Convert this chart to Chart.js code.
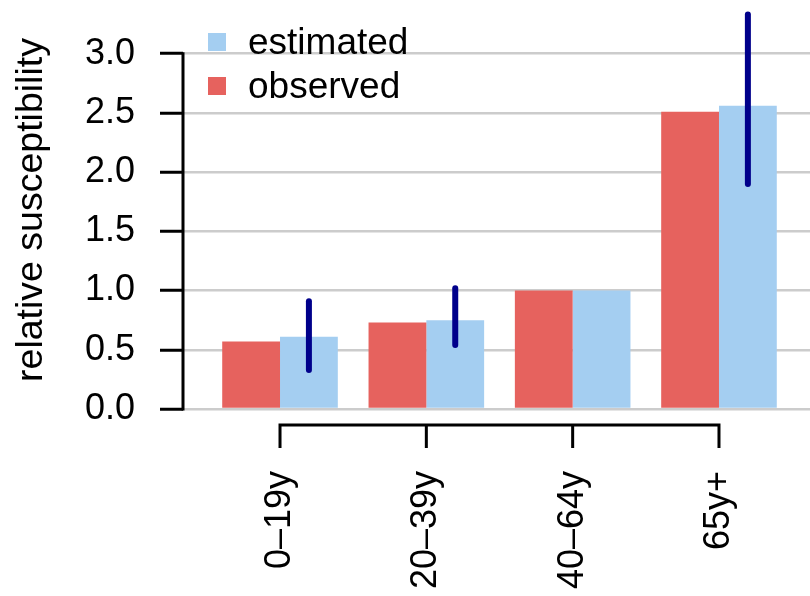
<!DOCTYPE html>
<html>
<head>
<meta charset="utf-8">
<title>Relative susceptibility by age</title>
<script src="https://cdn.jsdelivr.net/npm/chart.js@4.4.1/dist/chart.umd.min.js"></script>
<style>
    html, body { margin: 0; padding: 0; background: #fff; }
    canvas { display: block; }
</style>
</head>
<body>
<canvas id="susceptibility" width="810" height="596"></canvas>
<script>
const ageGroups = ['0–19y', '20–39y', '40–64y', '65y+'];
const observed = [0.57, 0.73, 1.0, 2.51];
const estimated = [0.61, 0.75, 1.0, 2.56];
// interval around the estimate, null where none was drawn
const estimatedLow = [0.33, 0.54, null, 1.90];
const estimatedHigh = [0.91, 1.02, null, 3.33];
const yTicks = [0, 0.5, 1.0, 1.5, 2.0, 2.5, 3.0];

const FONT = "'Liberation Sans', Arial, Helvetica, sans-serif";
const red = 'rgb(230, 98, 94)';
const blue = 'rgb(164, 206, 241)';
const navy = 'rgb(0, 0, 139)';
const gridGray = 'rgb(204, 204, 204)';

function toPoints(values) {
    return values.map((v, i) => ({ x: i, y: v }));
}

// fixed box size, and no extra room for the outer tick labels
function fixBox(scale, size) {
    if (scale.isHorizontal()) scale.height = size;
    else scale.width = size;
    scale.paddingTop = scale.paddingBottom = scale.paddingLeft = scale.paddingRight = 0;
}

// axis lines only span the tick range, x axis sits a bit below the plot
const axesPlugin = {
    id: 'rAxes',
    afterDraw(chart) {
        const ctx = chart.ctx;
        const xs = chart.scales.x;
        const ys = chart.scales.y;
        const area = chart.chartArea;
        ctx.save();
        ctx.strokeStyle = '#000';
        ctx.lineWidth = 3;

        ctx.beginPath();
        ctx.moveTo(area.left, ys.getPixelForValue(yTicks[0]) + 1.5);
        ctx.lineTo(area.left, ys.getPixelForValue(yTicks[yTicks.length - 1]) - 1.5);
        ctx.stroke();

        const top = area.bottom + 16;
        const first = xs.getPixelForValue(0);
        const last = xs.getPixelForValue(ageGroups.length - 1);
        ctx.beginPath();
        ctx.moveTo(first, top);
        ctx.lineTo(last, top);
        for (let i = 0; i < ageGroups.length; i++) {
            const px = xs.getPixelForValue(i);
            ctx.moveTo(px, top - 1.5);
            ctx.lineTo(px, top + 23);
        }
        ctx.stroke();
        ctx.restore();
    }
};

// vertical interval lines on the estimated bars
const intervalPlugin = {
    id: 'intervals',
    afterDatasetsDraw(chart) {
        const ctx = chart.ctx;
        const ys = chart.scales.y;
        const bars = chart.getDatasetMeta(1).data;
        ctx.save();
        ctx.strokeStyle = navy;
        ctx.lineWidth = 6;
        ctx.lineCap = 'round';
        estimatedLow.forEach((low, i) => {
            if (low === null) return;
            ctx.beginPath();
            ctx.moveTo(bars[i].x, ys.getPixelForValue(low));
            ctx.lineTo(bars[i].x, ys.getPixelForValue(estimatedHigh[i]));
            ctx.stroke();
        });
        ctx.restore();
    }
};

// small legend in the top left corner, estimated listed first
const legendPlugin = {
    id: 'cornerLegend',
    afterDraw(chart) {
        const ctx = chart.ctx;
        const sets = chart.data.datasets.slice().reverse();
        ctx.save();
        ctx.font = '37px ' + FONT;
        ctx.textBaseline = 'alphabetic';
        sets.forEach((ds, i) => {
            const cy = 42 + i * 44;
            ctx.fillStyle = ds.backgroundColor;
            ctx.fillRect(208, cy - 9, 18, 18);
            ctx.fillStyle = '#000';
            ctx.fillText(ds.label, 248, cy + 12);
        });
        ctx.restore();
    }
};

new Chart(document.getElementById('susceptibility'), {
    type: 'bar',
    data: {
        datasets: [{
            label: 'observed',
            data: toPoints(observed),
            backgroundColor: red,
            borderWidth: 0
        }, {
            label: 'estimated',
            data: toPoints(estimated),
            backgroundColor: blue,
            borderWidth: 0
        }]
    },
    options: {
        responsive: false,
        animation: false,
        devicePixelRatio: 1,
        layout: { padding: { top: 11, left: 0, right: 0, bottom: 0 } },
        categoryPercentage: 0.79,
        barPercentage: 1.0,
        plugins: {
            legend: { display: false },
            tooltip: { enabled: false }
        },
        scales: {
            x: {
                type: 'linear',
                offset: false,
                min: -0.663,
                max: 3.622,
                grid: { display: false, drawTicks: false },
                border: { display: false },
                ticks: {
                    stepSize: 1,
                    includeBounds: false,
                    autoSkip: false,
                    minRotation: 90,
                    maxRotation: 90,
                    padding: 62,
                    color: '#000',
                    font: { family: FONT, size: 36 },
                    callback: v => Number.isInteger(v) ? ageGroups[v] : ''
                },
                afterFit: s => fixBox(s, 187)
            },
            y: {
                min: 0,
                max: 3.36,
                grid: {
                    color: gridGray,
                    lineWidth: 2.5,
                    tickColor: '#000',
                    tickWidth: 3,
                    tickLength: 23
                },
                border: { display: false },
                ticks: {
                    padding: 25,
                    color: '#000',
                    font: { family: FONT, size: 36 },
                    callback: v => v.toFixed(1)
                },
                afterBuildTicks: s => { s.ticks = yTicks.map(v => ({ value: v })); },
                title: {
                    display: true,
                    text: 'relative susceptibility',
                    color: '#000',
                    font: { family: FONT, size: 37.5 },
                    padding: { top: 9, bottom: 0 }
                },
                afterFit: s => fixBox(s, 183)
            }
        }
    },
    plugins: [axesPlugin, intervalPlugin, legendPlugin]
});
</script>
</body>
</html>
